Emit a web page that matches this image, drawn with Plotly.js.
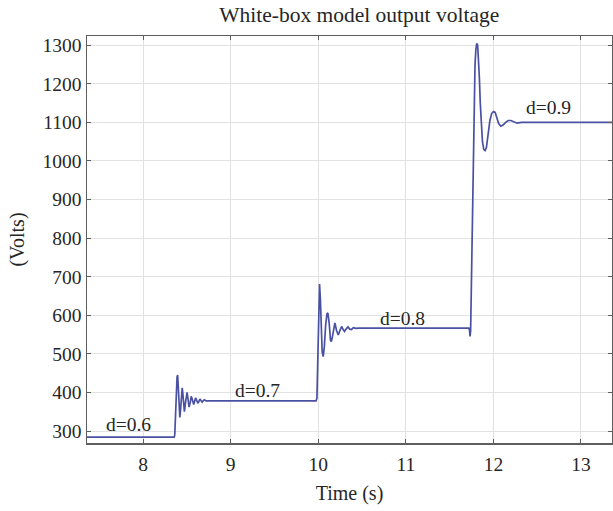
<!DOCTYPE html>
<html>
<head>
<meta charset="utf-8">
<script src="https://cdn.plot.ly/plotly-3.0.1.min.js"></script>
<style>html,body{margin:0;padding:0;background:#fff;}#chart{width:613px;height:511px;}</style>
</head>
<body>
<div id="chart"></div>
<script>
// Time (s) and output voltage (V)
const timeS = [
  7.30, 8.355, 8.362, 8.375, 8.388, 8.395, 8.405, 8.415, 8.42, 8.43, 8.44, 8.447, 8.455, 8.465, 8.472,
  8.485, 8.495, 8.503, 8.515, 8.525, 8.54, 8.55, 8.565, 8.578, 8.59, 8.60, 8.615, 8.628, 8.64, 8.65,
  8.665, 8.675, 8.69, 8.70, 8.72, 8.75,
  9.975, 9.985, 9.995, 10.005, 10.015, 10.025, 10.035, 10.045, 10.057, 10.07, 10.085, 10.10, 10.11,
  10.125, 10.14, 10.15, 10.165, 10.18, 10.19, 10.21, 10.229, 10.25, 10.267, 10.285, 10.30, 10.32,
  10.34, 10.36, 10.38, 10.40, 10.43, 10.46,
  11.72, 11.728, 11.733, 11.74, 11.75, 11.76, 11.77, 11.78, 11.79, 11.80, 11.81, 11.82, 11.83, 11.84,
  11.85, 11.86, 11.875, 11.89, 11.905, 11.92, 11.94, 11.96, 11.98, 12.00, 12.02, 12.04, 12.06, 12.085,
  12.11, 12.14, 12.17, 12.20, 12.24, 12.27, 12.32, 12.40, 13.40
];
const voltsV = [
  284, 284, 290, 380, 440, 445, 410, 350, 335, 360, 405, 412, 395, 358, 350,
  375, 398, 400, 380, 362, 375, 390, 380, 369, 378, 386, 378, 372, 378, 383,
  378, 375, 379, 381, 378, 378,
  378, 385, 480, 620, 681, 640, 560, 505, 493, 520, 575, 604, 606,
  580, 535, 532, 548, 575, 580, 560, 549, 562, 571, 563, 558, 565,
  570, 564, 563, 568, 566, 567,
  567, 560, 545, 560, 700, 880, 1040, 1170, 1250, 1290, 1305, 1300, 1270, 1215,
  1150, 1095, 1050, 1030, 1027, 1035, 1070, 1105, 1123, 1128, 1126, 1112, 1097, 1090,
  1093, 1100, 1105, 1105, 1101, 1098, 1100, 1100, 1100
];
const labelText = ["d=0.6", "d=0.7", "d=0.8", "d=0.9"];
const labelTime = [7.83, 9.31, 10.96, 12.63];
const labelVolt = [317, 406, 591, 1139];
const xTicks = [8, 9, 10, 11, 12, 13];
const yTicks = [300, 400, 500, 600, 700, 800, 900, 1000, 1100, 1200, 1300];

const FONT = "Liberation Serif, Times New Roman, serif";
const TXT = "#262626";

const trace = {
  x: timeS, y: voltsV, type: "scatter", mode: "lines",
  line: {color: "#4a51a3", width: 1.7},
  hoverinfo: "skip"
};

const annotations = labelText.map((t, i) => ({
  x: labelTime[i], y: labelVolt[i], xref: "x", yref: "y", text: t,
  showarrow: false, font: {family: FONT, size: 19.5, color: TXT}
}));

const axisCommon = {
  showline: true, linecolor: "#5e5e5e", linewidth: 1.5, mirror: "ticks",
  ticks: "inside", ticklen: 4, tickcolor: "#5e5e5e", tickwidth: 1,
  showgrid: true, gridcolor: "#e2e2e2", gridwidth: 1, zeroline: false,
  tickfont: {family: FONT, size: 19.5, color: TXT}
};

const layout = {
  width: 613, height: 511,
  margin: {l: 87, r: 1, t: 36, b: 68},
  paper_bgcolor: "#fff", plot_bgcolor: "#fff",
  showlegend: false,
  title: {text: "White-box model output voltage", font: {family: FONT, size: 21.5, color: TXT},
          x: 0.586, xanchor: "center", y: 1 - 14/511, yanchor: "middle", yref: "container"},
  xaxis: Object.assign({}, axisCommon, {
    range: [7.36, 13.354], tickvals: xTicks, ticktext: xTicks.map(String),
    ticklabelstandoff: 3,
    title: {text: "Time (s)", font: {family: FONT, size: 20, color: TXT}, standoff: 12}
  }),
  yaxis: Object.assign({}, axisCommon, {
    range: [269, 1324], tickvals: yTicks, ticktext: yTicks.map(String),
    title: {text: "(Volts)", font: {family: FONT, size: 20, color: TXT}, standoff: 12}
  }),
  annotations: annotations
};

Plotly.newPlot("chart", [trace], layout, {staticPlot: true, displayModeBar: false});
</script>
</body>
</html>
